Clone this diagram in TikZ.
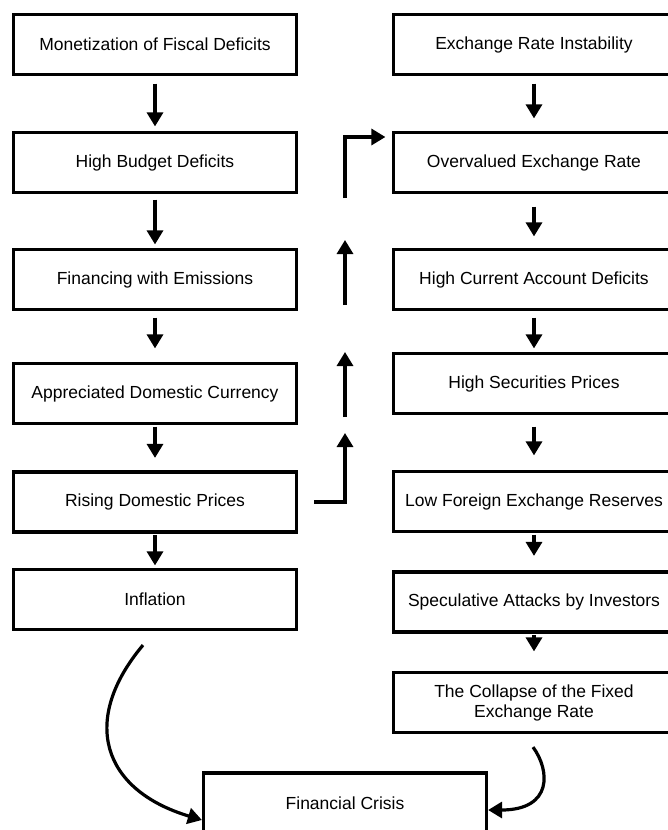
\documentclass[tikz,border=0pt]{standalone}
\usepackage{fontspec}
\setmainfont{Liberation Sans}
\usetikzlibrary{positioning,arrows.meta}

\tikzset{
  box/.style={draw, line width=3.2pt, minimum height=60pt, align=center,
    font=\fontsize{17.5}{20}\selectfont},
  lbox/.style={box, minimum width=283pt},
  rbox/.style={box, minimum width=281pt},
  arr/.style={line width=3.2pt, -{Triangle[length=14pt,width=16pt]}}
}

\begin{document}
\begin{tikzpicture}[x=1pt,y=-1pt]
      \useasboundingbox (0,0) rectangle (668,830);

      % Define the nodes of the left chain
      \node[lbox] (monet) at (155,44.5) {Monetization of Fiscal Deficits};
      \node[lbox] (budget) at (155,162.5) {High Budget Deficits};
      \node[lbox] (emis) at (155,279.5) {Financing with Emissions};
      \node[lbox] (apprec) at (155,393.5) {Appreciated Domestic Currency};
      \node[lbox] (rise) at (155,502) {Rising Domestic Prices};
      \node[lbox] (infl) at (155,599.5) {Inflation};

      % Define the nodes of the right chain
      \node[rbox] (instab) at (534,44.5) {Exchange Rate Instability};
      \node[rbox] (over) at (534,162.5) {Overvalued Exchange Rate};
      \node[rbox] (curacc) at (534,279.5) {High Current Account Deficits};
      \node[rbox] (secur) at (534,383.5) {High Securities Prices};
      \node[rbox] (reserv) at (534,501.5) {Low Foreign Exchange Reserves};
      \node[rbox] (specul) at (534,602) {Speculative Attacks by Investors};
      \node[rbox] (coll) at (534,702.5) {The Collapse of the Fixed\\Exchange Rate};

      % The final node
      \node[lbox] (crisis) at (345,803) {Financial Crisis};

      % Draw the arrows inside the left chain
      \draw[arr, shorten <=7.5pt, shorten >=4.5pt] (monet) -- (budget);
      \draw[arr, shorten <=5.5pt, shorten >=3.5pt] (budget) -- (emis);
      \draw[arr, shorten <=6.5pt, shorten >=13.5pt] (emis) -- (apprec);
      \draw[arr, shorten <=1.5pt, shorten >=12.5pt] (apprec) -- (rise);
      \draw[arr, shorten <=1.5pt, shorten >=2.5pt] (rise) -- (infl);

      % Draw the arrows inside the right chain
      \draw[arr, shorten <=7.5pt, shorten >=12.5pt] (instab) -- (over);
      \draw[arr, shorten <=12.5pt, shorten >=11.5pt] (over) -- (curacc);
      \draw[arr, shorten <=6.5pt, shorten >=3.5pt] (curacc) -- (secur);
      \draw[arr, shorten <=11.5pt, shorten >=14.5pt] (secur) -- (reserv);
      \draw[arr, shorten <=1.5pt, shorten >=14.5pt] (reserv) -- (specul);
      \draw[arr, shorten <=1.5pt, shorten >=19.5pt] (specul) -- (coll);

      % Free ends of the rising arrows between the chains
      \coordinate (up1) at (345,198);
      \coordinate (up2a) at (345,305);
      \coordinate (up2b) at (345,240);
      \coordinate (up3a) at (345,417);
      \coordinate (up3b) at (345,352);
      \coordinate (up4) at (345,433);

      % Draw the arrows from the left chain up to the right chain
      \draw[arr] ([xshift=16pt]rise.east) -| (up4);
      \draw[arr] (up3a) -- (up3b);
      \draw[arr] (up2a) -- (up2b);
      \draw[arr, shorten >=6.5pt] (up1) |- ([yshift=25.5pt]over.west);

      % Draw the curved arrows into the final node
      \draw[arr] ([shift={(-12pt,-14pt)}]infl.south) .. controls +(-63,75) and +(-100,-30) .. ([yshift=-17pt]crisis.west);
      \draw[arr] ([shift={(-1pt,-13pt)}]coll.south) .. controls +(17,23) and +(65,0) .. ([yshift=-7pt]crisis.east);
\end{tikzpicture}
\end{document}
